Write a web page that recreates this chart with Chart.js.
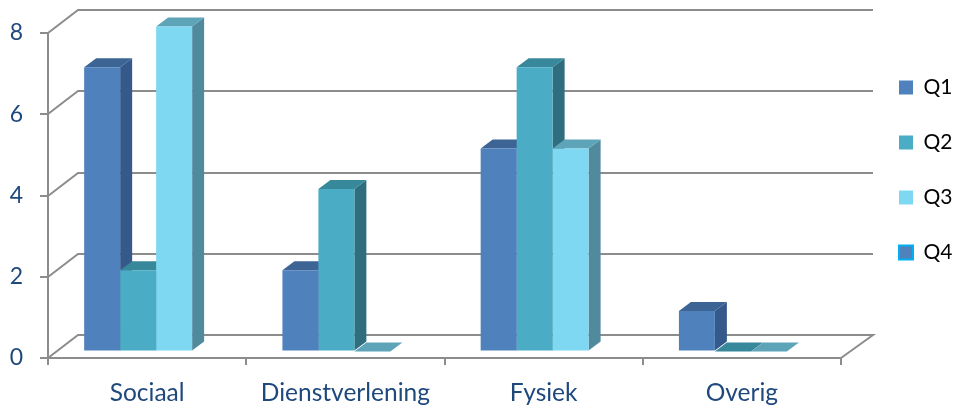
<!DOCTYPE html>
<html><head><meta charset="utf-8">
<script src="https://cdn.jsdelivr.net/npm/chart.js@4.4.1/dist/chart.umd.min.js"></script>
<style>html,body{margin:0;padding:0;background:#fff;} #wrap{width:958px;height:409px;position:relative;}</style>
</head><body><div id="wrap"><canvas id="c"></canvas></div>
<script>
const categories = ['Sociaal', 'Dienstverlening', 'Fysiek', 'Overig'];
const seriesNames = ['Q1', 'Q2', 'Q3', 'Q4'];
const q1 = [7, 2, 5, 1];
const q2 = [2, 4, 7, 0];
const q3 = [8, 0, 5, 0];
const q4 = [null, null, null, null];
const yTicks = [0, 2, 4, 6, 8];

const frontColors = ['#4F81BD', '#4BACC6', '#7FD8F1', '#4F81BD'];
const topColors = ['#3C6494', '#38889B', '#5EA4B9', '#3C6494'];
const sideColors = ['#34598A', '#2F6E7E', '#4F8A9D', '#34598A'];
const DEPTH_X = 12, DEPTH_Y = 9;
const SHIFT_X = 9, SHIFT_Y = -6.5;
const WALL_X = 30, WALL_Y = 23;
const GRID = '#8C8C8C';
const LABEL_BLUE = '#1F497D';

const threeD = {
  id: 'threeD',
  beforeDatasetsDraw(chart) {
    const ctx = chart.ctx, a = chart.chartArea, ys = chart.scales.y;
    ctx.save();
    ctx.strokeStyle = GRID; ctx.lineWidth = 2;
    yTicks.forEach(v => {
      const y = Math.round(ys.getPixelForValue(v));
      ctx.beginPath();
      ctx.moveTo(a.left, y);
      ctx.lineTo(a.left + WALL_X, y - WALL_Y);
      ctx.lineTo(a.right + WALL_X + 2, y - WALL_Y);
      if (v === 0) ctx.lineTo(a.right, y);
      ctx.stroke();
    });
    ctx.restore();
    ctx.save();
    ctx.translate(SHIFT_X, SHIFT_Y);
    const items = [];
    chart.data.datasets.forEach((ds, di) => {
      const meta = chart.getDatasetMeta(di);
      meta.data.forEach((el, i) => {
        const v = ds.data[i];
        if (v === null || v === undefined) return;
        items.push({ el, di });
      });
    });
    items.sort((p, q) => p.el.x - q.el.x);
    items.forEach(({ el, di }) => {
      const l = el.x - el.width / 2, r = el.x + el.width / 2;
      const t = Math.min(el.y, el.base), b = Math.max(el.y, el.base);
      ctx.fillStyle = sideColors[di];
      ctx.beginPath(); ctx.moveTo(r, t); ctx.lineTo(r + DEPTH_X, t - DEPTH_Y); ctx.lineTo(r + DEPTH_X, b - DEPTH_Y); ctx.lineTo(r, b); ctx.closePath(); ctx.fill();
      ctx.fillStyle = topColors[di];
      ctx.beginPath(); ctx.moveTo(l, t); ctx.lineTo(l + DEPTH_X, t - DEPTH_Y); ctx.lineTo(r + DEPTH_X, t - DEPTH_Y); ctx.lineTo(r, t); ctx.closePath(); ctx.fill();
    });
  },
  afterDatasetsDraw(chart) { chart.ctx.restore(); }
};

const seriesData = [q1, q2, q3, q4];
const datasets = seriesNames.map((name, i) => ({
  label: name,
  data: seriesData[i],
  backgroundColor: frontColors[i],
  borderColor: i === 3 ? '#00B0F0' : frontColors[i],
  borderWidth: i === 3 ? 2 : 0,
  clip: false,
  categoryPercentage: 0.726,
  barPercentage: 1.0
}));

new Chart(document.getElementById('c'), {
  type: 'bar',
  data: { labels: categories, datasets },
  options: {
    responsive: true,
    maintainAspectRatio: false,
    animation: false,
    layout: { padding: { top: 33, bottom: 0, left: 0, right: 0 } },
    plugins: {
      tooltip: { enabled: false },
      legend: {
        position: 'right',
        align: 'start',
        maxWidth: 93,
        title: { display: true, text: ' ', font: { size: 5 }, padding: 2 },
        labels: {
          boxWidth: 14, boxHeight: 14, padding: 34, color: '#000000',
          font: { family: 'Lato', size: 21 }
        }
      }
    },
    scales: {
      x: {
        grid: { display: true, drawOnChartArea: false, drawTicks: true, tickLength: 7, color: GRID, lineWidth: 2 },
        border: { display: true, color: GRID, width: 2 },
        ticks: { color: LABEL_BLUE, font: { family: 'Lato', size: 24.5 }, padding: 13, maxRotation: 0 },
        afterFit: s => { s.height = 51; }
      },
      y: {
        min: 0, max: 8,
        afterBuildTicks: s => { s.ticks = yTicks.map(v => ({ value: v })); },
        grid: { display: true, drawOnChartArea: false, drawTicks: true, tickLength: 8, color: GRID, lineWidth: 2 },
        border: { display: true, color: GRID, width: 2 },
        ticks: { color: LABEL_BLUE, font: { family: 'Lato', size: 23 }, padding: 17 },
        afterFit: s => { s.width = 48; }
      },
      yR: {
        type: 'linear', position: 'right', display: true,
        grid: { display: false }, border: { display: false },
        ticks: { display: false },
        afterFit: s => { s.width = 24; }
      }
    }
  },
  plugins: [threeD]
});
</script>
</body></html>
